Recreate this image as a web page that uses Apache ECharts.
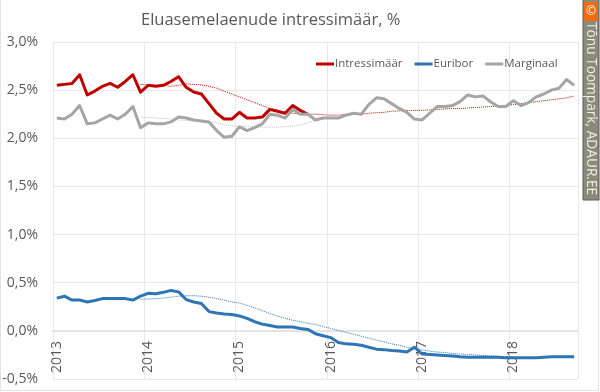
<!DOCTYPE html>
<html>
<head>
<meta charset="utf-8">
<style>html,body{margin:0;padding:0;background:#fff}#chart{width:600px;height:392px}</style>
<script src="https://cdn.jsdelivr.net/npm/echarts@6/dist/echarts.min.js"></script>
</head>
<body>
<div id="chart"></div>
<script>
// monthly data 2013-01 .. 2018-09
const months = [];
for (let y = 2013; y <= 2018; y++) {
    for (let m = 1; m <= 12; m++) {
        if (y === 2018 && m > 9) break;
        months.push(m === 1 ? String(y) : y + '-' + m);
    }
}

const intressimaar = [2.55,2.56,2.57,2.66,2.45,2.49,2.54,2.57,2.53,2.59,2.66,2.48,2.55,2.54,2.55,2.59,2.64,2.53,2.48,2.46,2.36,2.26,2.20,2.20,2.27,2.21,2.21,2.22,2.30,2.28,2.26,2.34,2.29,2.25];
const euribor = [0.34,0.36,0.32,0.32,0.30,0.315,0.335,0.335,0.335,0.335,0.32,0.36,0.39,0.385,0.40,0.42,0.405,0.325,0.30,0.285,0.20,0.185,0.175,0.17,0.155,0.13,0.095,0.07,0.055,0.04,0.04,0.04,0.025,0.015,-0.03,-0.05,-0.07,-0.12,-0.135,-0.14,-0.15,-0.17,-0.19,-0.195,-0.205,-0.21,-0.22,-0.17,-0.24,-0.245,-0.25,-0.255,-0.26,-0.27,-0.275,-0.275,-0.275,-0.275,-0.275,-0.28,-0.28,-0.28,-0.28,-0.28,-0.275,-0.27,-0.27,-0.27,-0.27];
const marginaal = [2.21,2.20,2.25,2.34,2.15,2.16,2.20,2.24,2.20,2.25,2.33,2.11,2.16,2.15,2.15,2.17,2.22,2.21,2.19,2.18,2.17,2.08,2.01,2.02,2.12,2.08,2.11,2.15,2.25,2.24,2.21,2.30,2.25,2.25,2.19,2.21,2.21,2.21,2.24,2.26,2.25,2.35,2.42,2.41,2.36,2.31,2.27,2.20,2.19,2.26,2.33,2.33,2.34,2.38,2.45,2.43,2.44,2.38,2.33,2.33,2.39,2.34,2.37,2.43,2.46,2.50,2.52,2.61,2.55];

// 12 month trends start from Dec 2013
const trendGap = Array(11).fill(null);
const intressimaarTrend = trendGap.concat([2.56,2.555,2.55,2.55,2.54,2.55,2.565,2.56,2.555,2.54,2.52,2.49,2.46,2.43,2.40,2.37,2.34,2.31,2.29,2.27,2.26,2.25,2.25,2.25,2.245,2.24,2.24,2.25,2.25,2.25,2.26,2.265,2.27,2.28,2.285,2.29,2.29,2.29,2.295,2.30,2.305,2.31,2.31,2.315,2.32,2.325,2.33,2.335,2.34,2.35,2.36,2.37,2.38,2.39,2.40,2.41,2.42,2.44]);
const euriborTrend = trendGap.concat([0.33,0.33,0.335,0.34,0.35,0.36,0.365,0.365,0.36,0.35,0.335,0.32,0.30,0.29,0.265,0.24,0.21,0.18,0.155,0.13,0.11,0.095,0.08,0.065,0.045,0.025,0.005,-0.015,-0.035,-0.055,-0.075,-0.095,-0.115,-0.135,-0.15,-0.17,-0.185,-0.20,-0.21,-0.22,-0.225,-0.235,-0.24,-0.245,-0.25,-0.255,-0.26,-0.265,-0.27,-0.27]);
const marginaalTrend = trendGap.concat([2.22,2.215,2.21,2.205,2.20,2.19,2.185,2.18,2.18,2.175,2.16,2.14,2.13,2.125,2.12,2.12,2.115,2.115,2.115,2.12,2.125,2.14,2.16,2.19,2.21,2.23]);

const RED = '#c00000', BLUE = '#2e75b6', GREY = '#a5a5a5';
const FONT = '"Open Sans", sans-serif';
const TXT = '#595959';

const mainLine = (name, data, color) => ({
    name, data, type: 'line', showSymbol: false, z: 5,
    lineStyle: {color, width: 3, join: 'round'},
    itemStyle: {color}
});
const trendLine = (name, data, color) => ({
    name, data, type: 'line', showSymbol: false, z: 3,
    lineStyle: {color, width: 1, type: 'dotted'},
    itemStyle: {color}
});

const chart = echarts.init(document.getElementById('chart'), null, {renderer: 'canvas'});
chart.setOption({
    animation: false,
    backgroundColor: '#fff',
    title: {
        text: 'Eluasemelaenude intressimäär, %',
        left: 136, top: 7,
        textStyle: {color: TXT, fontFamily: FONT, fontSize: 16.5, fontWeight: 'normal'}
    },
    legend: {
        data: [
            {name: 'Intressimäär', icon: 'rect'},
            {name: 'Euribor', icon: 'rect'},
            {name: 'Marginaal', icon: 'rect'}
        ],
        left: 311, top: 53,
        itemWidth: 18, itemHeight: 3, itemGap: 12,
        textStyle: {color: TXT, fontFamily: FONT, fontSize: 11.5, padding: [0, 0, 0, -4]}
    },
    grid: {left: 53, right: 22, top: 42, bottom: 13, outerBoundsMode: 'none'},
    xAxis: {
        type: 'category',
        data: months,
        // axis sits on the 0,0% line: -0,5..0 is 48px of the plot
        offset: -48,
        axisTick: {show: false},
        axisLine: {onZero: false, lineStyle: {color: '#e4e4e4', width: 2}},
        axisLabel: {
            interval: 11, rotate: 90, color: TXT, fontFamily: FONT, fontSize: 14,
            margin: 10,
            formatter: v => v.slice(0, 4)
        },
        splitLine: {show: true, interval: 11, lineStyle: {color: '#e8e8e8', width: 1}}
    },
    yAxis: {
        type: 'value',
        min: -0.5, max: 3, interval: 0.5,
        axisLine: {show: false},
        axisTick: {show: false},
        axisLabel: {
            color: TXT, fontFamily: FONT, fontSize: 14, margin: 15,
            formatter: v => v.toFixed(1).replace('.', ',') + '%'
        },
        splitLine: {lineStyle: {color: '#e8e8e8', width: 1}}
    },
    series: [
        trendLine('Marginaal trend', marginaalTrend, '#bfbfbf'),
        trendLine('Intressimäär trend', intressimaarTrend, RED),
        trendLine('Euribor trend', euriborTrend, BLUE),
        mainLine('Intressimäär', intressimaar, RED),
        mainLine('Euribor', euribor, BLUE),
        mainLine('Marginaal', marginaal, GREY)
    ],
    graphic: [
        // faint frame round the picture
        {type: 'rect', shape: {x: 0.5, y: -2, width: 598, height: 392.5},
            style: {fill: 'none', stroke: '#e4e4e4', lineWidth: 1}},
        {type: 'rect', shape: {x: 583, y: -1, width: 16, height: 201},
            style: {fill: '#8a8b78', stroke: '#5a5a5a', lineWidth: 1}},
        {type: 'rect', shape: {x: 584, y: 2, width: 14, height: 19}, style: {fill: '#f26a0f'}},
        {type: 'text', x: 591, y: 11.5, style: {text: '©', fill: '#fff', fontFamily: FONT, fontSize: 12, align: 'center', verticalAlign: 'middle'}},
        {type: 'text', x: 591, y: 22, rotation: -Math.PI / 2,
            style: {text: 'Tõnu Toompark, ADAUR.EE', fill: '#eee', fontFamily: FONT, fontSize: 13.7, align: 'left', verticalAlign: 'middle'}}
    ]
});
</script>
</body>
</html>
